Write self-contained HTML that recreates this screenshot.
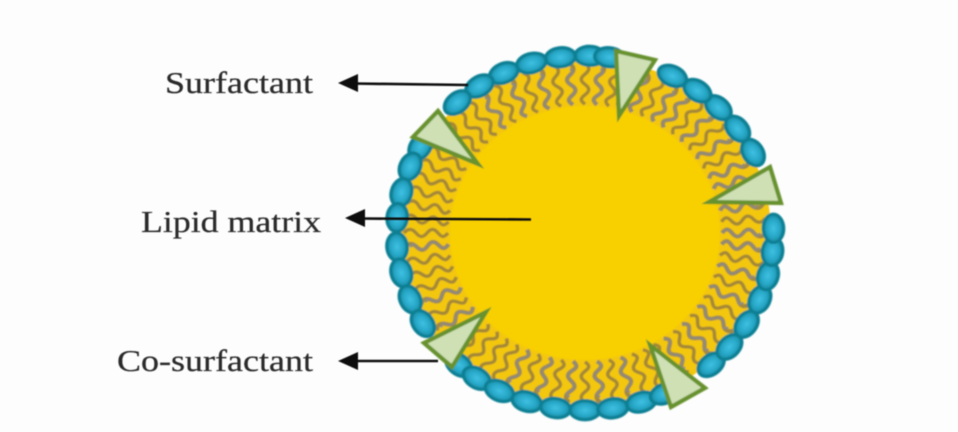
<!DOCTYPE html>
<html><head><meta charset="utf-8"><style>
html,body{margin:0;padding:0;background:#fdfdfd}
svg{display:block}
text{font-family:"Liberation Serif",serif;font-size:31px;fill:#2c2c2c;stroke:#2c2c2c;stroke-width:.25px}
</style></head><body>
<svg width="958" height="432" viewBox="0 0 958 432" xmlns="http://www.w3.org/2000/svg">
<defs>
<filter id="bl" x="-5%" y="-5%" width="110%" height="110%"><feGaussianBlur stdDeviation="0.8"/></filter>
<filter id="tb" x="-5%" y="-20%" width="110%" height="140%"><feGaussianBlur stdDeviation="0.4"/></filter>
<radialGradient id="bg"><stop offset="0" stop-color="#3fc0e2"/><stop offset="0.6" stop-color="#28a8c8"/><stop offset="1" stop-color="#178aa2"/></radialGradient>
<ellipse id="b" cx="0" cy="-188.5" rx="15" ry="10.2" fill="url(#bg)" stroke="#118094" stroke-width="3.4"/>
<g id="t" fill="none">
<path d="M0 -181C5 -177 5 -173 0 -169S-5 -162 0 -158S5 -151 0 -147S-5 -141 0 -137" stroke="#a58836" stroke-width="3.6"/>
</g>
<g id="u" fill="none">
<path d="M0 -181C5 -177 5 -173 0 -169S-5 -162 0 -158S5 -151 0 -147S-5 -141 0 -137" stroke="#a08844" stroke-width="4.4"/>
<path d="M0 -175C4 -173 4 -171 0 -169S-5 -162 0 -158S5 -151 0 -147S-5 -141 0 -137" stroke="#8f8b80" stroke-width="2.2"/>
</g>
</defs>
<rect width="958" height="432" fill="#fdfdfd"/>
<g filter="url(#bl)">
<g transform="translate(585 233) scale(1 .94)">
<circle r="186" fill="#f3c70c"/>
<use href="#t" transform="rotate(0)"/><use href="#u" transform="rotate(-5)"/><use href="#t" transform="rotate(-10)"/><use href="#u" transform="rotate(-15)"/><use href="#t" transform="rotate(-20)"/><use href="#u" transform="rotate(-25)"/><use href="#t" transform="rotate(-30)"/><use href="#u" transform="rotate(-35)"/><use href="#t" transform="rotate(-40)"/><use href="#t" transform="rotate(-45)"/><use href="#t" transform="rotate(-50)"/><use href="#t" transform="rotate(-55)"/><use href="#t" transform="rotate(-60)"/><use href="#t" transform="rotate(-65)"/><use href="#t" transform="rotate(-70)"/><use href="#t" transform="rotate(-75)"/><use href="#t" transform="rotate(-80)"/><use href="#t" transform="rotate(-85)"/><use href="#t" transform="rotate(-90)"/><use href="#u" transform="rotate(-95)"/><use href="#t" transform="rotate(-100)"/><use href="#t" transform="rotate(-105)"/><use href="#t" transform="rotate(-110)"/><use href="#u" transform="rotate(-115)"/><use href="#t" transform="rotate(-120)"/><use href="#u" transform="rotate(-125)"/><use href="#t" transform="rotate(-130)"/><use href="#t" transform="rotate(-135)"/><use href="#t" transform="rotate(-140)"/><use href="#t" transform="rotate(-145)"/><use href="#t" transform="rotate(-150)"/><use href="#u" transform="rotate(-155)"/><use href="#t" transform="rotate(-160)"/><use href="#u" transform="rotate(-165)"/><use href="#t" transform="rotate(-170)"/><use href="#u" transform="rotate(-175)"/>
<use href="#t" transform="rotate(180)"/><use href="#u" transform="rotate(175)"/><use href="#t" transform="rotate(170)"/><use href="#u" transform="rotate(165)"/><use href="#t" transform="rotate(160)"/><use href="#t" transform="rotate(155)"/><use href="#t" transform="rotate(150)"/><use href="#u" transform="rotate(145)"/><use href="#t" transform="rotate(140)"/><use href="#u" transform="rotate(135)"/><use href="#t" transform="rotate(130)"/><use href="#u" transform="rotate(125)"/><use href="#t" transform="rotate(120)"/><use href="#u" transform="rotate(115)"/><use href="#t" transform="rotate(110)"/><use href="#u" transform="rotate(105)"/><use href="#t" transform="rotate(100)"/><use href="#u" transform="rotate(95)"/><use href="#u" transform="rotate(90)"/><use href="#t" transform="rotate(85)"/><use href="#u" transform="rotate(80)"/><use href="#t" transform="rotate(75)"/><use href="#u" transform="rotate(70)"/><use href="#u" transform="rotate(65)"/><use href="#t" transform="rotate(60)"/><use href="#u" transform="rotate(55)"/><use href="#t" transform="rotate(50)"/><use href="#u" transform="rotate(45)"/><use href="#t" transform="rotate(40)"/><use href="#u" transform="rotate(35)"/><use href="#u" transform="rotate(30)"/><use href="#t" transform="rotate(25)"/><use href="#u" transform="rotate(20)"/><use href="#u" transform="rotate(15)"/><use href="#t" transform="rotate(10)"/><use href="#u" transform="rotate(5)"/>
<circle r="135" fill="#f8d000"/>
<use href="#b" transform="rotate(1.5)"/><use href="#b" transform="rotate(7.5)"/><use href="#b" transform="rotate(-7.5)"/><use href="#b" transform="rotate(-16.5)"/><use href="#b" transform="rotate(-25.5)"/><use href="#b" transform="rotate(-34)"/><use href="#b" transform="rotate(-42.6)"/><use href="#b" transform="rotate(-60.8)"/><use href="#b" transform="rotate(-68)"/><use href="#b" transform="rotate(-76.8)"/><use href="#b" transform="rotate(-85)"/><use href="#b" transform="rotate(-94.5)"/><use href="#b" transform="rotate(-103)"/><use href="#b" transform="rotate(-112)"/><use href="#b" transform="rotate(-120.7)"/><use href="#b" transform="rotate(-138)"/><use href="#b" transform="rotate(-145)"/><use href="#b" transform="rotate(-153)"/><use href="#b" transform="rotate(-162)"/><use href="#b" transform="rotate(-171)"/><use href="#b" transform="rotate(180)"/><use href="#b" transform="rotate(171.5)"/><use href="#b" transform="rotate(162.6)"/><use href="#b" transform="rotate(155)"/><use href="#b" transform="rotate(138)"/><use href="#b" transform="rotate(130)"/><use href="#b" transform="rotate(121)"/><use href="#b" transform="rotate(112)"/><use href="#b" transform="rotate(104)"/><use href="#b" transform="rotate(96)"/><use href="#b" transform="rotate(88.5)"/><use href="#b" transform="rotate(63)"/><use href="#b" transform="rotate(54)"/><use href="#b" transform="rotate(45)"/><use href="#b" transform="rotate(36.6)"/><use href="#b" transform="rotate(27.6)"/>
</g>
<g fill="#cfe0b4" stroke="#67922f" stroke-width="4.2" stroke-linejoin="miter">
<polygon points="616,51 655,60 619,116"/>
<polygon points="770,167 781,203 709,202"/>
<polygon points="438,111 413,137 478,164"/>
<polygon points="486,312 424,343 452,367"/>
<polygon points="650,345 705,388 671,407"/>
</g>
</g>
<g filter="url(#tb)">
<g stroke="#111" stroke-width="2.6" fill="none">
<path d="M352 83.5L468 85"/>
<path d="M358 218.5L531 219.5"/>
<path d="M352 361L438 361"/>
</g>
<g fill="#111">
<polygon points="338,83 358,74 358,92"/>
<polygon points="345,218 365,209 365,227"/>
<polygon points="338,361 358,352 358,370"/>
</g>
<text x="165" y="93" textLength="148" lengthAdjust="spacingAndGlyphs">Surfactant</text>
<text x="141" y="232" textLength="180" lengthAdjust="spacingAndGlyphs">Lipid matrix</text>
<text x="117" y="371" textLength="196" lengthAdjust="spacingAndGlyphs">Co-surfactant</text>
</g>
</svg>
</body></html>
